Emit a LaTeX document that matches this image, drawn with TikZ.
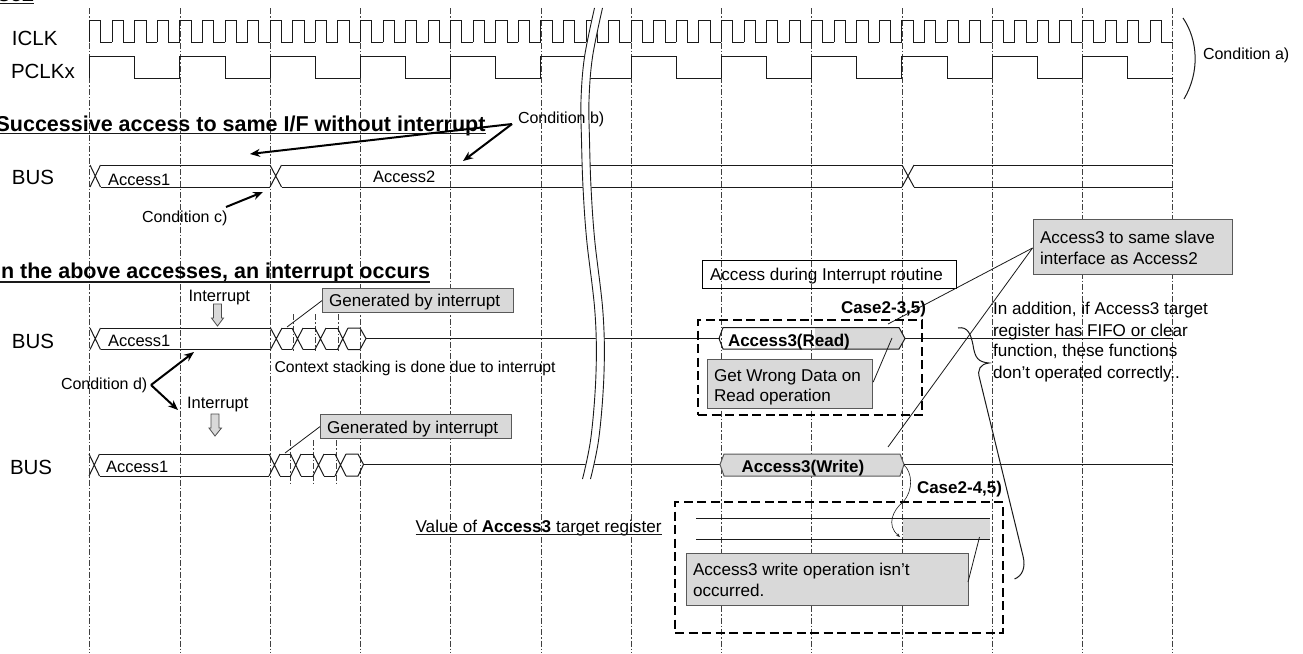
\documentclass[tikz,border=0pt]{standalone}
\usepackage{fontspec}
\setmainfont{Liberation Sans}
\usetikzlibrary{arrows.meta}
\definecolor{boxgray}{HTML}{D9D9D9}
\definecolor{ink}{HTML}{1A1A1A}
\tikzset{
 x=1pt,y=-1pt,
 txt/.style={anchor=base west,inner sep=0pt,outer sep=0pt,text=black,font=\fontsize{17.1}{20}\selectfont},
 cond/.style={txt,font=\fontsize{16}{19}\selectfont},
 sigtxt/.style={txt,font=\fontsize{16.5}{19}\selectfont},
 big/.style={txt,font=\fontsize{20.5}{24}\selectfont},
 head/.style={txt,font=\fontsize{21.5}{25}\selectfont\bfseries},
 caselbl/.style={txt,font=\fontsize{17}{20}\selectfont\bfseries},
 acc/.style={txt,font=\fontsize{17}{20}\selectfont\bfseries},
 gridline/.style={draw=black!75,line width=.9pt,dash pattern=on 6pt off 2pt on 1.5pt off 2pt},
 sig/.style={draw=ink,line width=1pt},
 graybox/.style={draw=black!65,line width=1.2pt,fill=boxgray},
 thin leader/.style={draw=ink,line width=.8pt},
 pointer/.style={draw=black,line width=2pt,-{Stealth[length=10pt,width=8pt]}},
 dashbox/.style={draw=black,line width=2pt,dash pattern=on 9pt off 4.5pt},
 blockarrow/.style={draw=black!70,line width=.8pt,fill=boxgray},
 breakline/.style={draw=ink,line width=.9pt},
}
\newcommand{\gridsep}{90.25}
% bus X crossing at x=#1 between y #2 and #3 to x=#4
\newcommand{\buscross}[4]{\draw[sig] (#1,#2) -- (#4,#3) (#1,#3) -- (#4,#2);}
\newcommand{\breakpath}[1]{plot[smooth,tension=.6] coordinates {(594.5+#1,8) (584.5+#1,57) (581+#1,100) (581.5+#1,140) (583+#1,187) (586.7+#1,240) (595+#1,313) (596+#1,373) (591+#1,437) (582.5+#1,479)}}
\begin{document}
\begin{tikzpicture}
\useasboundingbox (0,0) rectangle (1303,653);
\clip (0,0) rectangle (1303,653);
\fill[white] (0,0) rectangle (1303,653);
% grid
\foreach \i in {0,...,12}{
  \pgfmathsetmacro{\gx}{89.7+\i*\gridsep}
  \draw[gridline] (\gx,8) -- (\gx,653);
}
% short ticks
\foreach \gx in {293,315.5,338}{\draw[gridline] (\gx,314) -- (\gx,351);}
\foreach \gx in {290.5,313,336}{\draw[gridline] (\gx,440) -- (\gx,483);}
% clocks
\foreach \i in {0,...,47}{
  \pgfmathsetmacro{\xa}{89.7+\i*22.5625}
  \pgfmathsetmacro{\xb}{\xa+11.28}
  \pgfmathsetmacro{\xc}{\xa+22.5625}
  \draw[sig] (\xa,42.3) -- (\xa,20) -- (\xb,20) -- (\xb,42.3) -- (\xc,42.3);
}
\foreach \i in {0,...,11}{
  \pgfmathsetmacro{\xa}{89.7+\i*\gridsep}
  \pgfmathsetmacro{\xb}{\xa+45.1}
  \pgfmathsetmacro{\xc}{\xa+\gridsep}
  \draw[sig] (\xa,78) -- (\xa,56) -- (\xb,56) -- (\xb,78) -- (\xc,78);
}
% BUS 1
\buscross{90}{165}{187}{100.5}
\draw[sig] (100.5,165) -- (270,165) (100.5,187) -- (270,187);
\buscross{270}{165}{187}{281.5}
\draw[sig] (281.5,165) -- (902,165) (281.5,187) -- (902,187);
\buscross{902}{165}{187}{914}
\draw[sig] (914,165) -- (1172.7,165) (914,187) -- (1172.7,187);
% BUS 2
\buscross{90}{328}{349.5}{100.5}
\draw[sig] (100.5,328) -- (270.5,328) (100.5,349.5) -- (270.5,349.5);
\foreach \a/\b/\c in {270.5/282/292,292/303/315,315/326/337.5}{
  \buscross{\a}{328}{349.5}{\b}
  \draw[sig] (\b,328) -- (\c,328) (\b,349.5) -- (\c,349.5);
}
\draw[sig] (337.5,328) -- (348,349.5) (337.5,349.5) -- (348,328);
\draw[sig] (348,328) -- (360,328) -- (366,338.5) -- (360,349.5) -- (348,349.5);
\draw[sig] (366,338.5) -- (720,338.5);
% BUS 3
\buscross{89}{454}{476}{99.5}
\draw[sig] (99.5,454) -- (269,454) (99.5,476) -- (269,476);
\foreach \a/\b/\c in {269/280/290.5,290.5/301/313,313/324/335}{
  \buscross{\a}{454}{476}{\b}
  \draw[sig] (\b,454) -- (\c,454) (\b,476) -- (\c,476);
}
\draw[sig] (335,454) -- (346,476) (335,476) -- (346,454);
\draw[sig] (346,454) -- (358,454) -- (363.5,464.5) -- (358,476) -- (346,476);
\draw[sig] (363.5,464.5) -- (720,464.5);
% Access3 read hexagon
\fill[boxgray] (815,327.5) -- (899,327.5) -- (905,338.5) -- (899,349) -- (815,349) -- cycle;
\draw[sig] (719,338.5) -- (723,327.5) -- (899,327.5) -- (905,338.5) -- (899,349) -- (723,349) -- cycle;
\draw[sig] (905,338.5) -- (1172.7,338.5);
% Access3 write hexagon
\draw[graybox,line width=1pt] (720,464.5) -- (724,454) -- (900,454) -- (904,464.5) -- (900,476) -- (724,476) -- cycle;
\draw[sig] (904,464.5) -- (1172.7,464.5);
% register
\fill[boxgray] (903,518) rectangle (990,539);
\draw[sig] (696,518) -- (990,518) (696,539) -- (990,539);
% break
\draw[white,line width=8.5pt] \breakpath{4};
\draw[breakline] \breakpath{0};
\draw[breakline] \breakpath{8};
% block arrows
\draw[blockarrow] (213.5,304) -- (221.5,304) -- (221.5,318) -- (223.5,318) -- (217.5,326) -- (211.5,318) -- (213.5,318) -- cycle;
\draw[blockarrow] (211,414) -- (219,414) -- (219,428) -- (221.5,428) -- (215,436) -- (209,428) -- (211,428) -- cycle;
% gray boxes
\node[graybox,inner sep=0pt,minimum width=191pt,minimum height=24pt,anchor=north west] (gen1) at (322,288) {};
\node[graybox,inner sep=0pt,minimum width=191pt,minimum height=24pt,anchor=north west] (gen2) at (320,414) {};
\node[graybox,inner sep=0pt,minimum width=165pt,minimum height=49pt,anchor=north west] (wrong) at (707,359) {};
\node[graybox,inner sep=0pt,minimum width=199pt,minimum height=55pt,anchor=north west] (same) at (1033,219) {};
\node[graybox,inner sep=0pt,minimum width=282pt,minimum height=52pt,anchor=north west] (noop) at (686,553) {};
\node[draw=black,line width=1pt,inner sep=0pt,minimum width=254pt,minimum height=28pt,anchor=north west] (during) at (702,260) {};
% dashed boxes
\node[dashbox,inner sep=0pt,minimum width=224pt,minimum height=95pt,anchor=north west] (readframe) at (697,319) {};
\node[dashbox,inner sep=0pt,minimum width=328pt,minimum height=131pt,anchor=north west] (writeframe) at (674,501) {};
% leader ends
\coordinate (genA) at (287,327);
\coordinate (genB) at (285,453);
\coordinate (readEnd) at (892,338);
\coordinate (caseEnd) at (888,324);
\coordinate (writeEnd) at (888,447);
\coordinate (sameTip) at (1032.5,248);
\coordinate (noopStart) at (968,582);
\coordinate (noopEnd) at (979.5,537);
\draw[thin leader] (gen1.west) -- (genA);
\draw[thin leader] (gen2.west) -- (genB);
\draw[thin leader] (wrong.east) ++(0,-2) coordinate (wrongTip) -- (readEnd);
\draw[thin leader] (sameTip) -- (caseEnd);
\draw[thin leader] (sameTip) -- (writeEnd);
\draw[thin leader] (noopStart) -- (noopEnd);
% brace
\draw[draw=ink,line width=1pt] (958,328) .. controls (968,326) and (971,335) .. (973,345) .. controls (975,358) and (978,362) .. (989,363) .. controls (980,364) and (977,370) .. (979.5,378) -- (1023,556) .. controls (1026,568) and (1022,576) .. (1014.5,579);
% condition a arc
\draw[draw=ink,line width=1pt] (1183,18) .. controls (1198,40) and (1200,72) .. (1184,99);
% curved arrow
\draw[draw=ink,line width=.6pt,-{Stealth[length=4pt,width=3pt]}] (904,465) .. controls (912,472) and (914,490) .. (903,502) .. controls (893,510) and (886,525) .. (900,537);
% pointers
\coordinate (cb) at (512,124);
\coordinate (cc) at (226,207);
\coordinate (cd) at (151,385);
\coordinate (cbA) at (250,154);
\coordinate (cbB) at (463,161);
\coordinate (ccA) at (263,192);
\coordinate (cdA) at (194,352);
\coordinate (cdB) at (178,410);
% texts
\node[head,anchor=base east] (case0) at (34,1.5) {Case2};
\draw[draw=ink,line width=1.6pt] (0,3.5) -- (34,3.5);
\node[big] (iclk) at (12,45) {ICLK};
\node[big] (pclk) at (11,78) {PCLKx};
\node[head,anchor=base east] (h1) at (485.5,131) {Successive access to same I/F without interrupt};
\draw[draw=ink,line width=1.4pt] (0,133.5) -- (486,133.5);
\node[head,anchor=base east] (h2) at (430,278) {In the above accesses, an interrupt occurs};
\draw[draw=ink,line width=1.4pt] (0,282) -- (430,282);
\draw[pointer] (cb) -- (cbA);
\draw[pointer] (cb) -- (cbB);
\draw[pointer] (cc) -- (ccA);
\draw[pointer] (cd) -- (cdA);
\draw[pointer] (cd) -- (cdB);
\node[big] (bus1) at (12,184) {BUS};
\node[big] (bus2) at (12,348) {BUS};
\node[big] (bus3) at (10,474) {BUS};
\node[sigtxt] (a1) at (108,185) {Access1};
\node[sigtxt] (a2) at (373,182.7) {Access2};
\node[sigtxt] (a1b) at (108,346.7) {Access1};
\node[sigtxt] (a1c) at (106,472) {Access1};
\node[cond] (condb) at (518,123.5) {Condition b)};
\node[cond] (condc) at (142,222) {Condition c)};
\node[cond] (condd) at (61,389) {Condition d)};
\node[cond] (conda) at (1203,59) {Condition a)};
\node[sigtxt] (int1) at (188.5,301.7) {Interrupt};
\node[sigtxt] (int2) at (187,408) {Interrupt};
\node[txt] at (329,306) {Generated by interrupt};
\node[txt] at (327,433) {Generated by interrupt};
\node[cond,font=\fontsize{15.7}{19}\selectfont] (ctx) at (274.5,372) {Context stacking is done due to interrupt};
\node[txt] at (710,280) {Access during Interrupt routine};
\node[caselbl] (c35) at (841,313) {Case2-3,5)};
\node[caselbl] (c45) at (917,493) {Case2-4,5)};
\node[acc] at (728,346) {Access3(Read)};
\node[acc] at (741.7,472) {Access3(Write)};
\node[txt] at (714,381) {Get Wrong Data on};
\node[txt] at (714,401) {Read operation};
\node[txt] at (1040,243) {Access3 to same slave};
\node[txt] at (1040,264) {interface as Access2};
\node[txt] at (993,314) {In addition, if Access3 target};
\node[txt] at (993,336) {register has FIFO or clear};
\node[txt] at (993,356) {function, these functions};
\node[txt] at (993,378) {don't operated correctly..};
\node[txt] (val) at (415.6,532) {Value of \textbf{Access3} target register};
\draw[draw=ink,line width=1pt] (415.6,534.5) -- (662,534.5);
\node[txt] at (693,575) {Access3 write operation isn't};
\node[txt] at (693,596) {occurred.};
\end{tikzpicture}
\end{document}
